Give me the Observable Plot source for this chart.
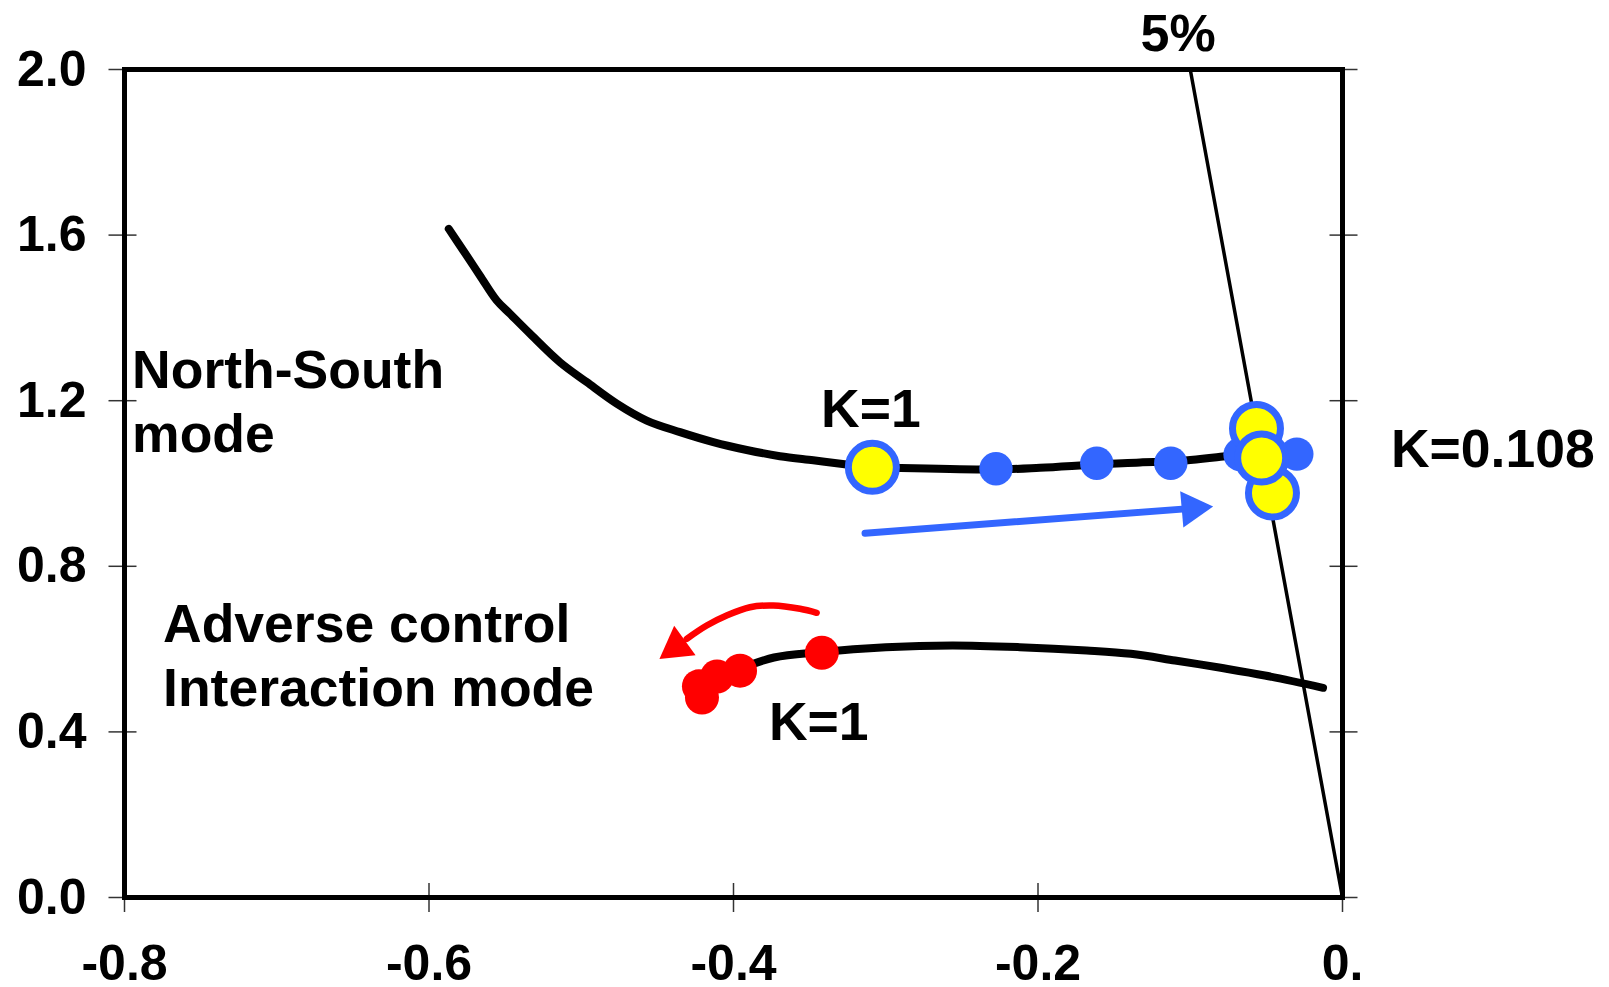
<!DOCTYPE html>
<html>
<head>
<meta charset="utf-8">
<script src="https://cdn.jsdelivr.net/npm/d3@7"></script>
<script src="https://cdn.jsdelivr.net/npm/@observablehq/plot@0.6"></script>
<style>
  html, body { margin: 0; padding: 0; background: #ffffff; }
</style>
</head>
<body>
<div id="chart"></div>
<script>
// Root locus of two electromechanical modes as controller gain K varies.
// x: real part (damping), y: frequency.

const xTicks = [-0.8, -0.6, -0.4, -0.2, 0];
const xTickLabels = ["-0.8", "-0.6", "-0.4", "-0.2", "0."];
const yTicks = [0, 0.4, 0.8, 1.2, 1.6, 2.0];
const yTickLabels = ["0.0", "0.4", "0.8", "1.2", "1.6", "2.0"];

// North-South mode locus
const nsLocusX = [-0.587, -0.5775, -0.5665, -0.5555, -0.5468, -0.5337, -0.514, -0.4964, -0.4767, -0.457,
  -0.4351, -0.4133, -0.3913, -0.3695, -0.3476, -0.3257, -0.3088, -0.2953, -0.2276, -0.1987,
  -0.1614, -0.133, -0.1113, -0.0785, -0.0673];
const nsLocusY = [1.615, 1.563, 1.502, 1.442, 1.410, 1.362, 1.293, 1.245, 1.193, 1.152,
  1.124, 1.100, 1.081, 1.066, 1.056, 1.046, 1.039, 1.038, 1.034, 1.038,
  1.046, 1.051, 1.053, 1.065, 1.070];

// Adverse control interaction mode locus
const acLocusX = [-0.411, -0.3957, -0.3734, -0.344, -0.300, -0.256, -0.212, -0.168, -0.139, -0.110, -0.080, -0.051, -0.0128];
const acLocusY = [0.534, 0.553, 0.5797, 0.5925, 0.6046, 0.6087, 0.6046, 0.5966, 0.5886, 0.5725, 0.5548, 0.5362, 0.5065];

// 5% damping ratio line
const dampLineX = [-0.1, 0];
const dampLineY = [2.0, 0];

// Gain steps on the North-South mode
const nsStepX = [-0.2276, -0.1614, -0.1128, -0.0673, -0.030];
const nsStepY = [1.0355, 1.049, 1.049, 1.070, 1.071];

// Highlighted North-South eigenvalues (K=1 ... K=0.108)
const nsKeyX = [-0.3088, -0.0565, -0.046, -0.0531];
const nsKeyY = [1.039, 1.133, 0.977, 1.0616];

// Gain steps on the adverse control interaction mode
const acStepX = [-0.342, -0.3957, -0.4108, -0.4227, -0.4207];
const acStepY = [0.591, 0.548, 0.534, 0.510, 0.483];

// Direction arrows
const blueArrowX = [-0.3136, -0.0987];
const blueArrowY = [0.880, 0.9399];
const redArrowX = [-0.3454, -0.3563, -0.3739, -0.3892, -0.4045, -0.4176, -0.4307];
const redArrowY = [0.6877, 0.6973, 0.7053, 0.7012, 0.6812, 0.657, 0.6249];
const arrowHeadX = [-0.0987, -0.4375];
const arrowHeadY = [0.9399, 0.6058];
const arrowHeadAngle = [85, -126];
const arrowHeadColor = ["#3366ff", "#ff0000"];

// Annotations
const noteText = ["North-South\nmode", "Adverse control\nInteraction mode", "K=1", "K=1", "K=0.108"];
const noteX = [-0.795, -0.7747, -0.3425, -0.3767, 0.0318];
const noteY = [1.076, 0.4614, 1.136, 0.3816, 1.0394];
const dampLabel = ["5%"];
const dampLabelX = [-0.108];
const dampLabelY = [2.0435];

const BLUE = "#3366ff";
const YELLOW = "#ffff00";
const RED = "#ff0000";

const pts = (X, Y) => X.map((x, i) => ({x, y: Y[i]}));
const idx = (A) => A.map((_, i) => i);

const chart = Plot.plot({
  width: 1609,
  height: 987,
  marginLeft: 124,
  marginRight: 267,
  marginTop: 69,
  marginBottom: 90,
  style: {fontFamily: "'Liberation Sans', Arial, sans-serif", background: "#ffffff", color: "#000"},
  x: {domain: [-0.8, 0], axis: null},
  y: {domain: [0, 2], axis: null},
  marks: [
    // tick marks crossing the frame
    Plot.ruleX(xTicks, {x: d => d, y1: 0, y2: 0, insetTop: -14, insetBottom: -15, stroke: "#333", strokeWidth: 1.5}),
    Plot.ruleY(yTicks, {y: d => d, x1: -0.8, x2: -0.8, insetLeft: -15.5, insetRight: -12.5, stroke: "#333", strokeWidth: 1.5}),
    Plot.ruleY(yTicks, {y: d => d, x1: 0, x2: 0, insetLeft: -12.5, insetRight: -15.5, stroke: "#333", strokeWidth: 1.5}),
    Plot.frame({stroke: "#000", strokeWidth: 5}),
    Plot.axisX({ticks: xTicks, tickFormat: (d) => xTickLabels[xTicks.indexOf(d)], tickSize: 0, tickPadding: 47,
      label: null, fontSize: 50, fontWeight: "bold", fill: "#000"}),
    Plot.axisY({ticks: yTicks, tickFormat: (d) => yTickLabels[yTicks.indexOf(d)], tickSize: 0, tickPadding: 38,
      label: null, fontSize: 50, fontWeight: "bold", fill: "#000"}),

    // loci
    Plot.line(pts(dampLineX, dampLineY), {x: "x", y: "y", stroke: "#000", strokeWidth: 3.5}),
    Plot.line(pts(nsLocusX, nsLocusY), {x: "x", y: "y", stroke: "#000", strokeWidth: 8, curve: "catmull-rom"}),
    Plot.line(pts(acLocusX, acLocusY), {x: "x", y: "y", stroke: "#000", strokeWidth: 8, curve: "catmull-rom"}),

    // arrows
    Plot.line(pts(blueArrowX, blueArrowY), {x: "x", y: "y", stroke: BLUE, strokeWidth: 7}),
    Plot.line(pts(redArrowX, redArrowY), {x: "x", y: "y", stroke: RED, strokeWidth: 6.5, curve: "catmull-rom"}),
    Plot.dot(idx(arrowHeadX), {x: i => arrowHeadX[i], y: i => arrowHeadY[i], symbol: "triangle", r: 13.5,
      fill: i => arrowHeadColor[i], stroke: "none", rotate: i => arrowHeadAngle[i]}),

    // eigenvalues
    Plot.dot(pts(nsStepX, nsStepY), {x: "x", y: "y", r: 16.7, fill: BLUE, stroke: "none"}),
    Plot.dot(pts(nsKeyX, nsKeyY), {x: "x", y: "y", r: 24, fill: YELLOW, stroke: BLUE, strokeWidth: 7}),
    Plot.dot(pts(acStepX, acStepY), {x: "x", y: "y", r: 17, fill: RED, stroke: "none"}),

    // labels
    Plot.text(idx(noteText), {x: i => noteX[i], y: i => noteY[i], text: i => noteText[i], textAnchor: "start",
      lineAnchor: "bottom", lineHeight: 1.2, fontSize: 53.5, fontWeight: "bold", fill: "#000"}),
    Plot.text(idx(dampLabel), {x: i => dampLabelX[i], y: i => dampLabelY[i], text: i => dampLabel[i], textAnchor: "middle",
      lineAnchor: "bottom", fontSize: 52, fontWeight: "bold", fill: "#000"})
  ]
});

document.getElementById("chart").appendChild(chart);
</script>
</body>
</html>
